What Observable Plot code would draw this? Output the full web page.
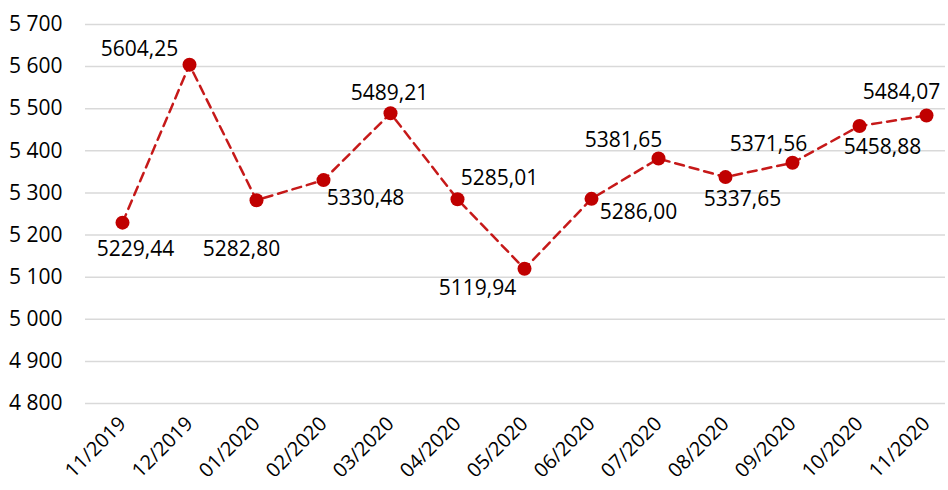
<!DOCTYPE html>
<html>
<head>
<meta charset="utf-8">
<script src="https://cdn.jsdelivr.net/npm/d3@7"></script>
<script src="https://cdn.jsdelivr.net/npm/@observablehq/plot@0.6"></script>
<style>
  html, body { margin: 0; padding: 0; background: #fff; }
</style>
</head>
<body>
<div id="chart"></div>
<script>
const months = ["11/2019","12/2019","01/2020","02/2020","03/2020","04/2020","05/2020","06/2020","07/2020","08/2020","09/2020","10/2020","11/2020"];
const values = [5229.44, 5604.25, 5282.80, 5330.48, 5489.21, 5285.01, 5119.94, 5286.00, 5381.65, 5337.65, 5371.56, 5458.88, 5484.07];
const yTicks = [4800, 4900, 5000, 5100, 5200, 5300, 5400, 5500, 5600, 5700];

// label placement (layout only)
const labelOffsets = [[13,27],[-50,-16],[-15,49],[42,18],[-1,-20],[42,-21],[-47,19],[47,13],[-35,-18],[17,22],[-24,-19],[23,21],[-25,-23]];

const data = months.map((m, i) => ({month: m, value: values[i]}));
const loc = d3.formatLocale({thousands: " ", grouping: [3], decimal: ",", currency: ["", ""]});
const yFmt = loc.format(",");
const valFmt = v => v.toFixed(2).replace(".", ",");

const red = "#C00000";

const labelMarks = data.map((d, i) => Plot.text([d], {
  x: "month", y: "value", text: dd => valFmt(dd.value),
  dx: labelOffsets[i][0], dy: labelOffsets[i][1],
  fill: "#000", fontSize: 21
}));

const chart = Plot.plot({
  width: 948,
  height: 490,
  marginLeft: 85,
  marginRight: 3,
  marginTop: 24,
  marginBottom: 87,
  style: {fontFamily: "'Open Sans', sans-serif", fontSize: "21px", color: "#000", background: "#fff"},
  x: {type: "point", domain: months, padding: 0, insetLeft: 33, insetRight: 15, label: null},
  y: {domain: [4800, 5700], label: null},
  marks: [
    Plot.ruleY(yTicks, {stroke: "#d9d9d9", strokeWidth: 1.5}),
    Plot.axisY({ticks: yTicks, tickSize: 0, tickPadding: 23, tickFormat: yFmt, fontSize: 21, label: null}),
    Plot.axisX({tickRotate: -45, tickSize: 0, tickPadding: 17, fontSize: 20, label: null}),
    Plot.line(data, {x: "month", y: "value", stroke: red, strokeWidth: 2.5, strokeDasharray: "9,6", strokeOpacity: 0.9}),
    Plot.dot(data, {x: "month", y: "value", r: 7, fill: red, stroke: "none"}),
    ...labelMarks
  ]
});
document.getElementById("chart").appendChild(chart);
</script>
</body>
</html>
